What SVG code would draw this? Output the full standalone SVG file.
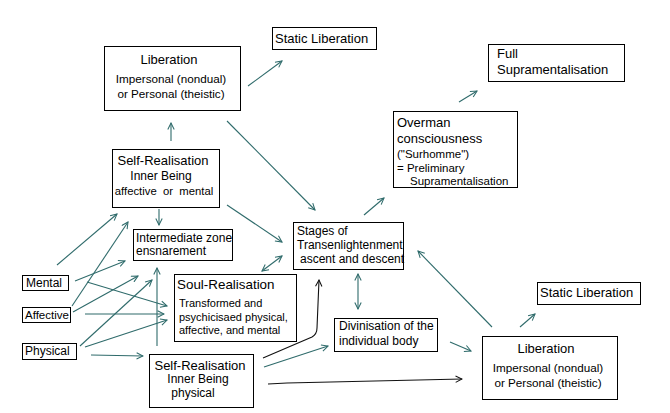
<svg xmlns="http://www.w3.org/2000/svg" width="670" height="413" viewBox="0 0 670 413">
<style>
.b{fill:#fff;stroke:#000;stroke-width:1}
text{font-family:"Liberation Sans",Arial,sans-serif;fill:#000}
.t13{font-size:13px}
.t12{font-size:12px}
.t11{font-size:11.5px}
.c{text-anchor:middle}
.e{fill:none;stroke:#2f6b6b;stroke-width:1.1}
.k{fill:none;stroke:#111;stroke-width:1.1}
</style>
<defs>
<marker id="a" viewBox="0 0 10 10" refX="9" refY="5" markerWidth="8" markerHeight="8" markerUnits="userSpaceOnUse" orient="auto-start-reverse">
<path d="M1,1 L9,5 L1,9" fill="none" stroke="#2f6b6b" stroke-width="1.3"/>
</marker>
<marker id="ak" viewBox="0 0 10 10" refX="9" refY="5" markerWidth="8" markerHeight="8" markerUnits="userSpaceOnUse" orient="auto">
<path d="M1,1 L9,5 L1,9" fill="none" stroke="#111" stroke-width="1.3"/>
</marker>
</defs>
<rect width="670" height="413" fill="#fff"/>

<g id="connectors">
<line class="e" x1="248" y1="86" x2="282" y2="61" marker-end="url(#a)"/>
<line class="e" x1="171" y1="141" x2="171" y2="123" marker-end="url(#a)"/>
<line class="e" x1="227" y1="121" x2="315" y2="210" marker-end="url(#a)"/>
<line class="e" x1="227" y1="205" x2="282" y2="242" marker-end="url(#a)"/>
<line class="e" x1="159" y1="209" x2="159" y2="225" marker-end="url(#a)"/>
<line class="e" x1="364" y1="215" x2="384" y2="198" marker-end="url(#a)"/>
<line class="e" x1="459" y1="102" x2="477" y2="91" marker-end="url(#a)"/>
<line class="e" x1="282" y1="256" x2="262" y2="271" marker-start="url(#a)" marker-end="url(#a)"/>
<line class="e" x1="358" y1="274" x2="358" y2="309" marker-start="url(#a)" marker-end="url(#a)"/>
<line class="e" x1="450" y1="342" x2="471" y2="351" marker-end="url(#a)"/>
<line class="e" x1="520" y1="327" x2="535" y2="314" marker-end="url(#a)"/>
<line class="e" x1="492" y1="327" x2="418" y2="251" marker-end="url(#a)"/>
<polyline class="k" points="268,384 287,383 462,379" marker-end="url(#ak)"/>
<line class="e" x1="264" y1="367" x2="328" y2="346" marker-end="url(#a)"/>
<path class="k" d="M263,358 L312,337 Q317,334 317,328 L319,280" marker-end="url(#ak)"/>
<line class="e" x1="57" y1="265" x2="117" y2="214" marker-end="url(#a)"/>
<line class="e" x1="72" y1="306" x2="128" y2="222" marker-end="url(#a)"/>
<line class="e" x1="75" y1="281" x2="125" y2="261" marker-end="url(#a)"/>
<line class="e" x1="87" y1="282" x2="167" y2="306" marker-end="url(#a)"/>
<line class="e" x1="73" y1="312" x2="138" y2="276" marker-end="url(#a)"/>
<line class="e" x1="85" y1="314" x2="164" y2="314" marker-end="url(#a)"/>
<line class="e" x1="80" y1="346" x2="152" y2="280" marker-end="url(#a)"/>
<line class="e" x1="85" y1="347" x2="167" y2="320" marker-end="url(#a)"/>
<line class="e" x1="91" y1="355" x2="143" y2="356" marker-end="url(#a)"/>
<line class="e" x1="157" y1="346" x2="157" y2="268" marker-end="url(#a)"/>
</g>

<g id="liberation-top">
<rect class="b" x="104.5" y="46.5" width="136" height="64"/>
<text class="t13 c" x="169" y="64">Liberation</text>
<text class="c" style="font-size:11.7px" x="171" y="83">Impersonal (nondual)</text>
<text class="c" style="font-size:11.7px" x="171" y="98">or Personal (theistic)</text>
</g>

<g id="static-liberation-top">
<rect class="b" x="272.5" y="27.5" width="104" height="22"/>
<text class="t13" x="275" y="43">Static Liberation</text>
</g>

<g id="full-supramentalisation">
<rect class="b" x="488.5" y="44.5" width="136" height="37"/>
<text class="t13" x="497" y="58">Full</text>
<text class="t13" x="497" y="74">Supramentalisation</text>
</g>

<g id="overman">
<rect class="b" x="393.5" y="111.5" width="124" height="76"/>
<text class="t13" x="397" y="127">Overman</text>
<text class="t13" x="397" y="143">consciousness</text>
<text class="t11" x="397" y="158">("Surhomme")</text>
<text class="t11" x="397" y="172">= Preliminary</text>
<text class="t11" x="410" y="185">Supramentalisation</text>
</g>

<g id="self-realisation-affective">
<rect class="b" x="112.5" y="149.5" width="107" height="58"/>
<text class="t13 c" x="163" y="165">Self-Realisation</text>
<text class="t12 c" x="161" y="180">Inner Being</text>
<text class="c" x="164" y="195" style="white-space:pre;font-size:11.3px">affective  or  mental</text>
</g>

<g id="intermediate-zone">
<rect class="b" x="133.5" y="229.5" width="99" height="31"/>
<text class="t12" x="136" y="242">Intermediate zone</text>
<text class="t12" x="136" y="255">ensnarement</text>
</g>

<g id="stages">
<rect class="b" x="293.5" y="222.5" width="110" height="47"/>
<text class="t12" x="297" y="235">Stages of</text>
<text class="t12" x="297" y="249">Transenlightenment</text>
<text class="t12" x="300" y="263">ascent and descent</text>
</g>

<g id="soul-realisation">
<rect class="b" x="174.5" y="274.5" width="122" height="67"/>
<text style="font-size:13.4px" x="177" y="289">Soul-Realisation</text>
<text style="font-size:11px" x="179" y="307">Transformed and</text>
<text style="font-size:11px" x="179" y="321">psychicisaed physical,</text>
<text style="font-size:11px" x="179" y="334">affective, and mental</text>
</g>

<g id="self-realisation-physical">
<rect class="b" x="149.5" y="354.5" width="104" height="53"/>
<text class="t13 c" x="200" y="370">Self-Realisation</text>
<text class="t12 c" x="198" y="383">Inner Being</text>
<text class="t12 c" x="193" y="397">physical</text>
</g>

<g id="divinisation">
<rect class="b" x="334.5" y="318.5" width="103" height="33"/>
<text class="t12" x="339" y="330">Divinisation of the</text>
<text class="t12" x="339" y="345">individual body</text>
</g>

<g id="liberation-bottom">
<rect class="b" x="482.5" y="336.5" width="135" height="63"/>
<text class="t13 c" x="546" y="353">Liberation</text>
<text class="c" style="font-size:11.7px" x="548" y="372">Impersonal (nondual)</text>
<text class="c" style="font-size:11.7px" x="548" y="387">or Personal (theistic)</text>
</g>

<g id="static-liberation-bottom">
<rect class="b" x="537.5" y="282.5" width="103" height="22"/>
<text class="t13" x="540" y="297">Static Liberation</text>
</g>

<g id="mental">
<rect class="b" x="22.5" y="275.5" width="46" height="15"/>
<text class="t12" x="26" y="287">Mental</text>
</g>

<g id="affective">
<rect class="b" x="22.5" y="307.5" width="48" height="15"/>
<text class="t11" x="25" y="319">Affective</text>
</g>

<g id="physical">
<rect class="b" x="22.5" y="343.5" width="54" height="16"/>
<text class="t12" x="25" y="355">Physical</text>
</g>
</svg>
